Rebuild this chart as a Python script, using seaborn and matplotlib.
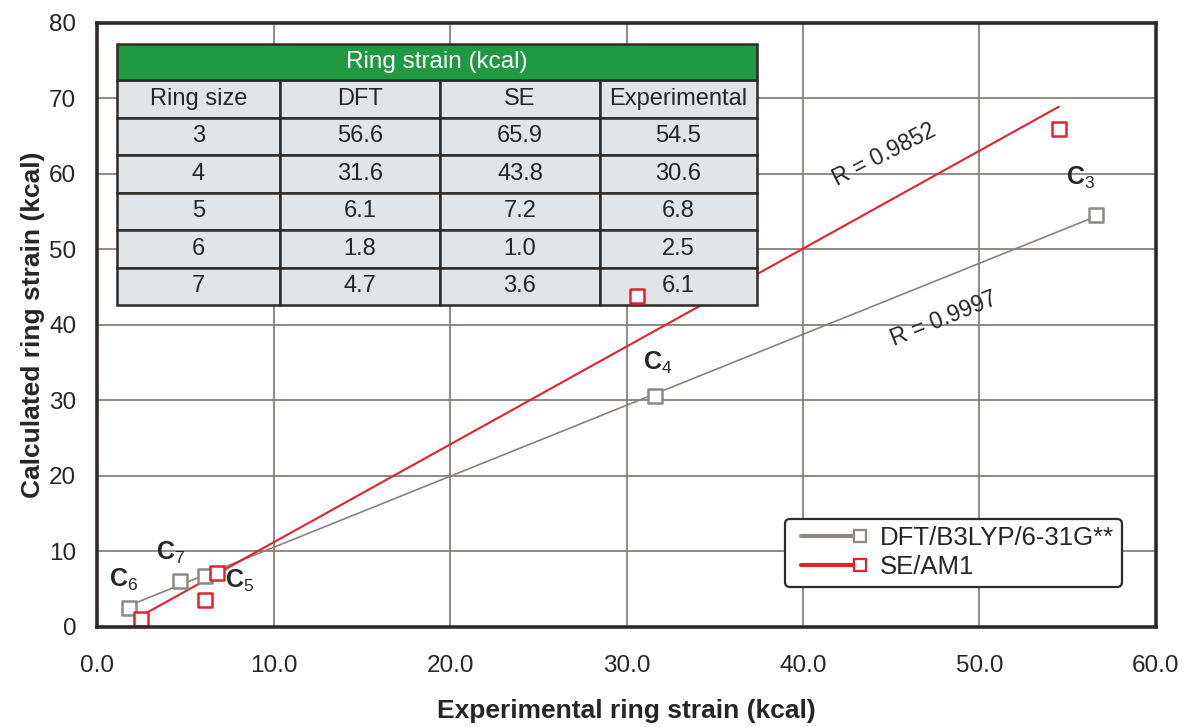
import matplotlib
matplotlib.use("Agg")
import matplotlib.pyplot as plt
import seaborn as sns
from matplotlib.lines import Line2D
from matplotlib.legend_handler import HandlerLine2D

# Ring strain data (kcal)
ring_sizes = [3, 4, 5, 6, 7]
dft = [56.6, 31.6, 6.1, 1.8, 4.7]
se = [65.9, 43.8, 7.2, 1.0, 3.6]
experimental = [54.5, 30.6, 6.8, 2.5, 6.1]

table_title = "Ring strain (kcal)"
table_columns = ["Ring size", "DFT", "SE", "Experimental"]
series_labels = ["DFT/B3LYP/6-31G**", "SE/AM1"]
r_labels = ["R = 0.9997", "R = 0.9852"]
point_labels = [r"$\mathbf{C}_{3}$", r"$\mathbf{C}_{4}$", r"$\mathbf{C}_{5}$",
                r"$\mathbf{C}_{6}$", r"$\mathbf{C}_{7}$"]
x_ticks = [0, 10, 20, 30, 40, 50, 60]
y_ticks = [0, 10, 20, 30, 40, 50, 60, 70, 80]

GREY = "#8d8884"
GREY_LINE = "#8a817c"
RED = "#e2222f"
GRID = "#8a807b"
FRAME = "#2e2a28"
TEXT = "#252525"
GREEN = "#1f9a42"
CELL = "#e2e5e8"

sns.set_theme(style="whitegrid")
plt.rcParams["font.family"] = ["Liberation Sans", "DejaVu Sans"]
plt.rcParams["mathtext.fontset"] = "custom"
plt.rcParams["mathtext.rm"] = "Liberation Sans"
plt.rcParams["mathtext.bf"] = "Liberation Sans:bold"

fig = plt.figure(figsize=(11.86, 7.27), dpi=100)
ax = fig.add_axes([0.0818, 0.1376, 0.8929, 0.8308])
ax.set_facecolor("white")

# DFT vs experimental and SE vs experimental with least-squares lines
sns.regplot(x=dft, y=experimental, ax=ax, ci=None, marker="s", color=GREY,
            scatter_kws=dict(s=95, facecolors="white", edgecolors=GREY,
                             linewidths=1.8, alpha=1, zorder=6),
            line_kws=dict(color=GREY_LINE, lw=1.2, zorder=4))
sns.regplot(x=experimental, y=se, ax=ax, ci=None, marker="s", color=RED,
            scatter_kws=dict(s=95, facecolors="white", edgecolors=RED,
                             linewidths=1.8, alpha=1, zorder=6),
            line_kws=dict(color=RED, lw=1.5, zorder=4))

ax.set_xlim(0, 60)
ax.set_ylim(0, 80)
ax.set_xticks(x_ticks)
ax.set_yticks(y_ticks)
ax.set_xticklabels([f"{v:.1f}" for v in x_ticks])
ax.set_yticklabels([str(v) for v in y_ticks])
ax.tick_params(axis="both", labelsize=17.5, colors=TEXT, length=8, width=1.2,
               color=GRID, pad=7)
ax.tick_params(axis="x", length=0, pad=20)
ax.grid(True, color=GRID, lw=1.3)
ax.set_axisbelow(True)
for s in ax.spines.values():
    s.set_color(FRAME)
    s.set_linewidth(2.6)
    s.set_zorder(7)

ax.set_xlabel("Experimental ring strain (kcal)", fontsize=19,
              fontweight="bold", color=TEXT, labelpad=16)
ax.set_ylabel("Calculated ring strain (kcal)", fontsize=19,
              fontweight="bold", color=TEXT, labelpad=3)

# Ring labels next to the DFT points
offsets = [(-11, 27), (2, 24), (25, -4), (-4, 20), (-7, 20)]
for lab, xv, yv, off in zip(point_labels, dft, experimental, offsets):
    ax.annotate(lab, (xv, yv), xytext=off, textcoords="offset points",
                ha="center", va="center", fontsize=18, color=TEXT, zorder=8)

# Correlation labels along the lines
ax.text(44.6, 62.6, r_labels[1], rotation=27, fontsize=16.5, color=TEXT,
        ha="center", va="center", rotation_mode="anchor")
ax.text(48.0, 40.8, r_labels[0], rotation=22, fontsize=16.5, color=TEXT,
        ha="center", va="center", rotation_mode="anchor")

# Inset data table
rows = [[str(r), f"{d:.1f}", f"{s:.1f}", f"{e:.1f}"]
        for r, d, s, e in zip(ring_sizes, dft, se, experimental)]
cell_text = [table_columns] + rows
col_w = [163, 160, 160, 157]
tot = sum(col_w)
body = ax.table(cellText=cell_text, cellLoc="center",
                colWidths=[w / tot for w in col_w],
                bbox=[0.0189, 0.533, 0.6043, 0.3725], zorder=5)
body.auto_set_font_size(False)
body.set_fontsize(17)
for (r, c), cell in body.get_celld().items():
    cell.set_facecolor(CELL)
    cell.set_edgecolor(FRAME)
    cell.set_linewidth(1.8)
    cell.get_text().set_color(TEXT)

head = ax.table(cellText=[[table_title]], cellLoc="center",
                bbox=[0.0189, 0.9056, 0.6043, 0.0596], zorder=5)
head.auto_set_font_size(False)
head.set_fontsize(17.5)
hc = head[0, 0]
hc.set_facecolor(GREEN)
hc.set_edgecolor(FRAME)
hc.set_linewidth(1.8)
hc.get_text().set_color("white")


class EndMarkerHandler(HandlerLine2D):
    """Legend entry with the marker drawn only at the right end of the line."""

    def create_artists(self, legend, orig_handle, xdescent, ydescent,
                       width, height, fontsize, trans):
        artists = super().create_artists(legend, orig_handle, xdescent,
                                         ydescent, width, height, fontsize,
                                         trans)
        line = artists[0]
        n = len(line.get_xdata())
        line.set_markevery([n - 1])
        return artists


handles = [
    Line2D([], [], color=GREY, lw=3, marker="s", ms=9, mfc="white",
           mec=GREY, mew=1.6),
    Line2D([], [], color=RED, lw=3, marker="s", ms=9, mfc="white",
           mec=RED, mew=1.6),
]
leg = ax.legend(handles, series_labels, loc="lower right",
                bbox_to_anchor=(0.968, 0.066), fontsize=18.5, frameon=True,
                fancybox=True, handlelength=2.9, numpoints=2,
                handler_map={Line2D: EndMarkerHandler(numpoints=2)},
                borderpad=0.3, labelspacing=0.2, handletextpad=0.5,
                borderaxespad=0)
leg.get_frame().set_edgecolor(FRAME)
leg.get_frame().set_linewidth(1.6)
leg.get_frame().set_alpha(1)
leg.set_zorder(9)
for t in leg.get_texts():
    t.set_color(TEXT)

fig.savefig("out.png", dpi=100, facecolor="white")
